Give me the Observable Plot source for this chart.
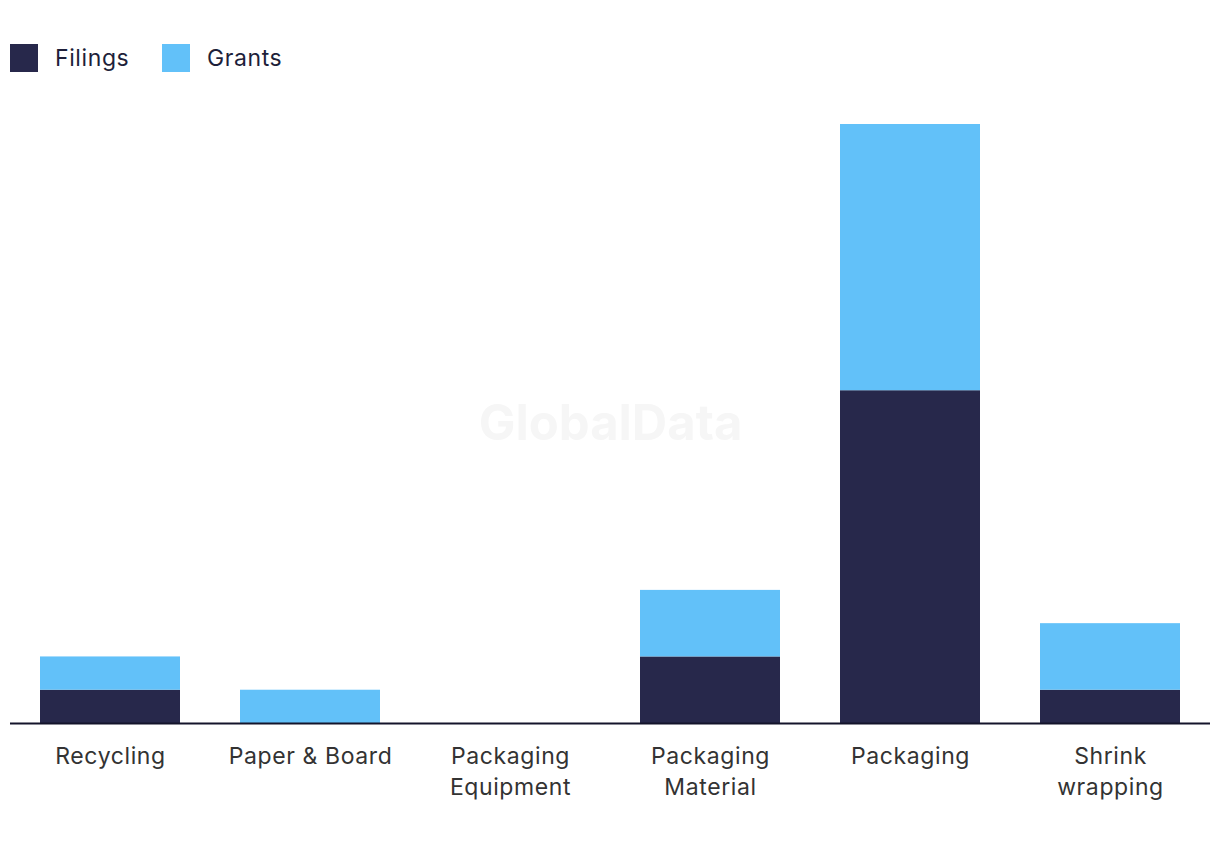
<!DOCTYPE html>
<html>
<head>
<meta charset="utf-8">
<script src="https://cdn.jsdelivr.net/npm/d3@7"></script>
<script src="https://cdn.jsdelivr.net/npm/@observablehq/plot@0.6"></script>
<style>
  html, body { margin: 0; padding: 0; background: #fff; }
  body { width: 1220px; height: 850px; font-family: Inter, "Noto Sans", sans-serif; overflow: hidden; }
  #legend { height: 100px; position: relative; }
  .item { position: absolute; top: 44px; display: flex; align-items: center; font-size: 23px; letter-spacing: 0.6px; color: #1e1f3a; }
  .sw { width: 28px; height: 28px; margin-right: 17px; }
  svg text { letter-spacing: 0.6px; }
  svg .wm text { letter-spacing: 0; }
</style>
</head>
<body>
<div id="legend"></div>
<div id="chart"></div>
<script>
const categories = ["Recycling", "Paper & Board", "Packaging Equipment", "Packaging Material", "Packaging", "Shrink wrapping"];
const tickLabels = ["Recycling", "Paper & Board", "Packaging\nEquipment", "Packaging\nMaterial", "Packaging", "Shrink\nwrapping"];
const series = ["Filings", "Grants"];
const colors = ["#27284b", "#62c1f9"];
const filings = [1, 0, 0, 2, 10, 1];
const grants = [1, 1, 0, 2, 8, 2];

const data = [];
categories.forEach((c, i) => {
  data.push({category: c, series: "Filings", value: filings[i]});
  data.push({category: c, series: "Grants", value: grants[i]});
});

// legend
const legend = document.getElementById("legend");
const legendX = [10, 162];
series.forEach((s, i) => {
  const d = document.createElement("div");
  d.className = "item";
  d.style.left = legendX[i] + "px";
  d.innerHTML = `<div class="sw" style="background:${colors[i]}"></div><span>${s}</span>`;
  legend.appendChild(d);
});

const labelMap = new Map(categories.map((c, i) => [c, tickLabels[i]]));

const chart = Plot.plot({
  width: 1220,
  height: 750,
  marginLeft: 10,
  marginRight: 10,
  marginTop: 24,
  marginBottom: 127,
  style: {fontFamily: "Inter, 'Noto Sans', sans-serif", background: "#fff"},
  x: {domain: categories, paddingInner: 0.3, paddingOuter: 0.15, label: null},
  y: {domain: [0, 18], axis: null},
  color: {domain: series, range: colors},
  marks: [
    Plot.text(["GlobalData"], {frameAnchor: "middle", text: d => d, fontSize: 49, fontWeight: "bold", fill: "#f6f6f6", className: "wm"}),
    Plot.barY(data, {x: "category", y: "value", fill: "series", order: series}),
    Plot.ruleY([0], {stroke: "#14142b", strokeWidth: 2}),
    Plot.axisX({tickSize: 0, tickPadding: 18, fontSize: 23, lineHeight: 1.35, fill: "#333", tickFormat: d => labelMap.get(d), label: null})
  ]
});
document.getElementById("chart").appendChild(chart);
</script>
</body>
</html>
